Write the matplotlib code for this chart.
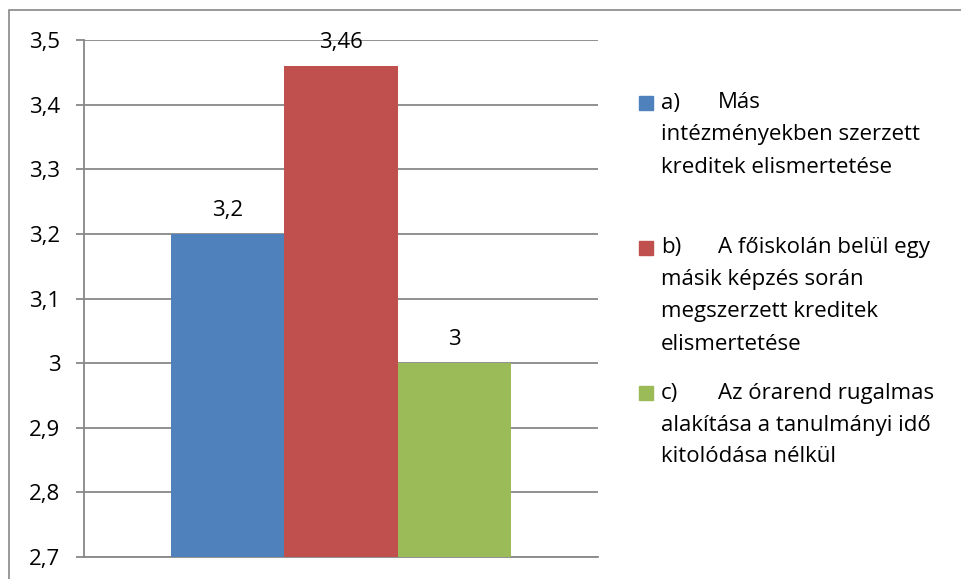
import matplotlib
matplotlib.use('Agg')
import matplotlib.pyplot as plt
from matplotlib.patches import Rectangle

categories = ['a)', 'b)', 'c)']
values = [3.2, 3.46, 3.0]
value_labels = ['3,2', '3,46', '3']
colors = ['#4F81BD', '#C0504D', '#9BBB59']
legend_lines = [
    ['Más', 'intézményekben szerzett', 'kreditek elismertetése'],
    ['A főiskolán belül egy', 'másik képzés során', 'megszerzett kreditek', 'elismertetése'],
    ['Az órarend rugalmas', 'alakítása a tanulmányi idő', 'kitolódása nélkül'],
]
yticks = [2.7, 2.8, 2.9, 3.0, 3.1, 3.2, 3.3, 3.4, 3.5]

W, H = 962, 579
plt.rcParams['font.family'] = ['Open Sans', 'DejaVu Sans']
FS = 16
GRID = '#888888'


def px(x, y):
    return x / W, 1 - y / H


fig = plt.figure(figsize=(W / 100, H / 100), dpi=100)

# outer chart border (right and bottom fall outside the image)
fig.patches.append(Rectangle(px(9, 600), (W + 20) / W, 590 / H,
                             transform=fig.transFigure, fill=False,
                             edgecolor=GRID, lw=1.2))

left, right, top, bottom = 84, 598, 40, 557
ax = fig.add_axes([left / W, 1 - bottom / H, (right - left) / W, (bottom - top) / H])

xpos = [-1, 0, 1]
bars = ax.bar(xpos, [v - 2.7 for v in values], bottom=2.7, width=1.0,
              color=colors, zorder=3)
ax.set_xlim(-2.266, 2.266)
ax.set_ylim(2.7, 3.5)
ax.set_yticks(yticks)
ax.set_yticklabels([f'{t:g}'.replace('.', ',') for t in yticks], fontsize=FS)
ax.set_xticks([])
ax.yaxis.grid(True, color=GRID, lw=1.3, zorder=0)
ax.tick_params(axis='y', length=6, width=1.3, color=GRID, pad=11)
for s in ['top', 'right']:
    ax.spines[s].set_visible(False)
for s in ['left', 'bottom']:
    ax.spines[s].set_color(GRID)
    ax.spines[s].set_linewidth(1.3)

for x, v, lab in zip(xpos, values, value_labels):
    ax.annotate(lab, (x, v), xytext=(0, 13), textcoords='offset points',
                ha='center', va='baseline', fontsize=FS)

# legend drawn by hand to keep Excel's equal slot spacing
for i, (cat, col, lines) in enumerate(zip(categories, colors, legend_lines)):
    yc = 103 + i * 145
    x0, y0 = px(639, yc + 7)
    fig.patches.append(Rectangle((x0, y0), 14 / W, 14 / H,
                                 transform=fig.transFigure, color=col))
    fig.text(*px(661, yc), cat, fontsize=FS, va='center', ha='left')
    fig.text(*px(718, yc), lines[0], fontsize=FS, va='center', ha='left')
    for j, line in enumerate(lines[1:], start=1):
        fig.text(*px(661, yc + 32 * j), line, fontsize=FS, va='center', ha='left')

fig.savefig('out.png', dpi=100)
